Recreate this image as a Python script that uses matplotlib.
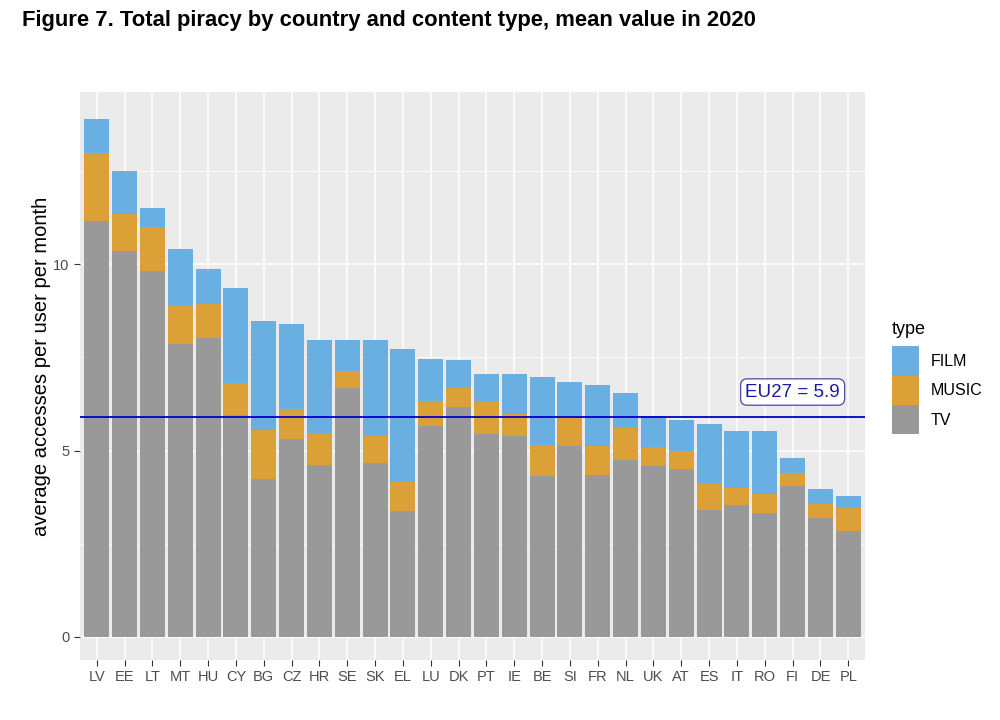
import matplotlib
matplotlib.use("Agg")
import matplotlib.pyplot as plt
from matplotlib.patches import Patch

# Values (segment heights per content type)
countries = ['LV', 'EE', 'LT', 'MT', 'HU', 'CY', 'BG', 'CZ', 'HR', 'SE', 'SK', 'EL', 'LU', 'DK',
             'PT', 'IE', 'BE', 'SI', 'FR', 'NL', 'UK', 'AT', 'ES', 'IT', 'RO', 'FI', 'DE', 'PL']
tv = [11.16, 10.36, 9.81, 7.87, 8.03, 5.94, 4.24, 5.31, 4.62, 6.68, 4.67, 3.37, 5.67, 6.16,
      5.44, 5.38, 4.32, 5.13, 4.35, 4.75, 4.58, 4.51, 3.41, 3.54, 3.33, 4.05, 3.19, 2.85]
music = [1.82, 0.98, 1.19, 1.00, 0.91, 0.88, 1.30, 0.81, 0.81, 0.45, 0.71, 0.78, 0.67, 0.52,
         0.86, 0.59, 0.83, 0.77, 0.76, 0.86, 0.51, 0.49, 0.69, 0.45, 0.49, 0.35, 0.38, 0.60]
film = [0.91, 1.17, 0.52, 1.53, 0.92, 2.55, 2.95, 2.27, 2.54, 0.84, 2.58, 3.57, 1.11, 0.75,
        0.76, 1.09, 1.82, 0.95, 1.64, 0.94, 0.83, 0.82, 1.60, 1.53, 1.70, 0.40, 0.39, 0.32]
eu27 = 5.9

C_FILM = '#6aafe1'
C_MUSIC = '#dba036'
C_TV = '#999999'

plt.rcParams['font.family'] = ['Liberation Sans', 'DejaVu Sans']

fig = plt.figure(figsize=(10, 7.2), dpi=100)
ax = fig.add_axes([0.08, 0.0833, 0.785, 0.789])
ax.set_facecolor('#ebebeb')

x = list(range(1, len(countries) + 1))
music_bottom = tv
film_bottom = [a + b for a, b in zip(tv, music)]
ax.bar(x, tv, width=0.9, color=C_TV, zorder=2)
ax.bar(x, music, width=0.9, bottom=music_bottom, color=C_MUSIC, zorder=2)
ax.bar(x, film, width=0.9, bottom=film_bottom, color=C_FILM, zorder=2)

totals = [a + b for a, b in zip(film_bottom, film)]
top = max(totals)
ax.set_ylim(-0.045 * top, top * 1.053)
ax.set_xlim(0.4, len(countries) + 0.6)

# grid, ggplot style
for v in [0, 5, 10]:
    ax.axhline(v, color='white', lw=1.1, zorder=1)
for v in [2.5, 7.5, 12.5]:
    ax.axhline(v, color='white', lw=0.55, zorder=1)
for xi in x:
    ax.axvline(xi, color='white', lw=1.1, zorder=1)

# EU27 average line and label
ax.axhline(eu27, color='#0000cc', lw=1.3, zorder=3)
ax.text(26.0, 6.57, 'EU27 = 5.9', color='#1a1aa6', fontsize=13.5, ha='center', va='center', zorder=4,
        bbox=dict(boxstyle='round,pad=0.25,rounding_size=0.35', fc='white', ec='#4a4aa8', lw=0.9))

ax.set_xticks(x)
ax.set_xticklabels(countries)
ax.set_yticks([0, 5, 10])
ax.tick_params(axis='both', colors='#333333', labelcolor='#4d4d4d', labelsize=10.5, length=4, width=0.8)
for s in ax.spines.values():
    s.set_visible(False)

ax.set_ylabel('average accesses per user per month', fontsize=14.5, color='black')
ax.yaxis.set_label_coords(-0.037, 0.517)

handles = [Patch(facecolor=C_FILM, label='FILM'),
           Patch(facecolor=C_MUSIC, label='MUSIC'),
           Patch(facecolor=C_TV, label='TV')]
leg = ax.legend(handles=handles, title='type', loc='center left', bbox_to_anchor=(1.026, 0.497),
                frameon=False, fontsize=11.5, title_fontsize=13, handlelength=1.7, handleheight=2.45,
                handletextpad=0.75, labelspacing=0.0, borderaxespad=0.0)
leg._legend_box.align = 'left'
leg._legend_box.sep = 6

fig.text(0.022, 0.971, 'Figure 7. Total piracy by country and content type, mean value in 2020',
         fontsize=15.8, fontweight='bold', ha='left', va='center')

fig.savefig('out.png', dpi=100)
